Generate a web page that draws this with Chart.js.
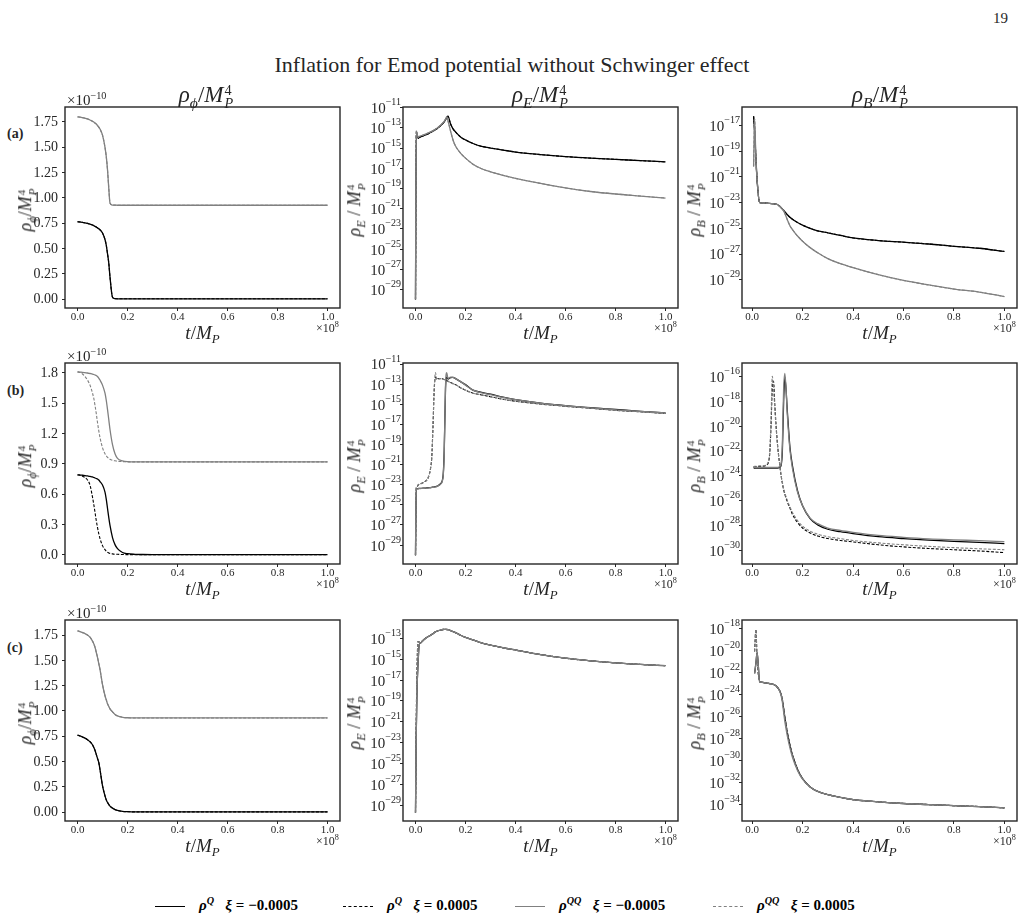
<!DOCTYPE html>
<html>
<head>
<meta charset="utf-8">
<script src="https://cdn.jsdelivr.net/npm/chart.js@4.4.1/dist/chart.umd.min.js"></script>
<style>
body { margin: 0; width: 1025px; height: 923px; background: #fff; position: relative; overflow: hidden;
       font-family: "Liberation Serif", "DejaVu Serif", serif; color: #262626; }
canvas { position: absolute; }
.lbl { position: absolute; white-space: nowrap; line-height: 1; }
.ss { display: inline-block; vertical-align: -0.45em; font-size: 0.62em; line-height: 0.95; margin-left: 1px; }
sub, sup { font-size: 0.68em; line-height: 0; }
.rot { transform: translate(-50%, -50%) rotate(-90deg); }
.mid { transform: translate(-50%, -50%); }
.leg { position: absolute; top: 897px; font-size: 15px; font-weight: bold; color: #000; white-space: nowrap; }
.sw { display: inline-block; width: 30px; vertical-align: middle; margin-right: 14px; }
</style>
</head>
<body>
<div class="lbl" style="left:993px;top:11px;font-size:15px;">19</div>
<div class="lbl mid" style="left:512px;top:65px;font-size:22px;">Inflation for Emod potential without Schwinger effect</div>
<div class="lbl" style="left:7px;top:127px;font-size:14px;font-weight:bold;">(a)</div>
<div class="lbl" style="left:7px;top:384px;font-size:14px;font-weight:bold;">(b)</div>
<div class="lbl" style="left:7px;top:641px;font-size:14px;font-weight:bold;">(c)</div>

<div class="leg" style="left:155px;"><span class="sw" style="border-top:1.6px solid #000;"></span><i>ρ</i><sup><i>Q</i></sup>&nbsp;&nbsp;&nbsp;<i>ξ</i> = −0.0005</div>
<div class="leg" style="left:343px;"><span class="sw" style="border-top:1.4px dashed #000;"></span><i>ρ</i><sup><i>Q</i></sup>&nbsp;&nbsp;&nbsp;<i>ξ</i> = 0.0005</div>
<div class="leg" style="left:515px;"><span class="sw" style="border-top:1.6px solid #808080;"></span><i>ρ</i><sup><i>QQ</i></sup>&nbsp;&nbsp;&nbsp;<i>ξ</i> = −0.0005</div>
<div class="leg" style="left:713px;"><span class="sw" style="border-top:1.4px dashed #808080;"></span><i>ρ</i><sup><i>QQ</i></sup>&nbsp;&nbsp;&nbsp;<i>ξ</i> = 0.0005</div>

<script>
// time grid, t / M_P in units of 1e8
const tGrid = [0, 0.003, 0.006, 0.01, 0.015, 0.02, 0.03, 0.04, 0.05, 0.06,
  0.065, 0.07, 0.075, 0.08, 0.085, 0.09, 0.1, 0.11, 0.115, 0.12, 0.125, 0.13,
  0.14, 0.15, 0.16, 0.18, 0.2, 0.23, 0.26, 0.3, 0.35, 0.4, 0.5, 0.6, 0.7, 0.8, 0.9, 1.0];

// --- row (a) ---
// rho_phi / M_P^4 in units of 1e-10
const phiA_Qm = [0.765, 0.765, 0.764, 0.763, 0.761, 0.759, 0.755, 0.749, 0.742, 0.733,
  0.727, 0.72, 0.713, 0.705, 0.696, 0.686, 0.655, 0.59, 0.535, 0.45, 0.36, 0.22,
  0.02, 0.006, 0.005, 0.005, 0.005, 0.005, 0.005, 0.005, 0.005, 0.005, 0.005, 0.005, 0.005, 0.005, 0.005, 0.005];
const phiA_Qp = phiA_Qm; // dashed curve sits on the solid one
const phiA_QQm = [1.80, 1.80, 1.799, 1.798, 1.796, 1.793, 1.787, 1.78, 1.77, 1.757,
  1.75, 1.74, 1.73, 1.715, 1.70, 1.68, 1.62, 1.50, 1.41, 1.28, 1.10, 0.95,
  0.93, 0.929, 0.928, 0.928, 0.928, 0.928, 0.928, 0.928, 0.928, 0.928, 0.928, 0.928, 0.928, 0.928, 0.928, 0.928];
const phiA_QQp = phiA_QQm;
// log10(rho_E / M_P^4)
const eA_Qm = [-30.0, -13.4, -13.6, -14.05, -13.95, -13.9, -13.8, -13.7, -13.6, -13.45,
  -13.4, -13.32, -13.25, -13.17, -13.1, -13.0, -12.8, -12.55, -12.4, -12.2, -12.0, -11.85,
  -12.6, -13.1, -13.4, -13.9, -14.2, -14.55, -14.8, -15.0, -15.2, -15.4, -15.65, -15.85, -16.0, -16.12, -16.25, -16.37];
const eA_Qp = eA_Qm;
const eA_QQm = [-30.0, -13.3, -13.5, -13.95, -13.85, -13.8, -13.72, -13.62, -13.52, -13.4,
  -13.35, -13.28, -13.2, -13.13, -13.05, -12.95, -12.75, -12.5, -12.35, -12.15, -11.9, -12.3,
  -13.3, -14.2, -14.8, -15.5, -16.0, -16.6, -17.0, -17.35, -17.7, -18.0, -18.5, -18.95, -19.3, -19.55, -19.75, -19.95];
const eA_QQp = eA_QQm;
// log10(rho_B / M_P^4)
const bA_Qm = [null, null, -16.3, -17.5, -19.5, -21.3, -23.0, -23.02, -23.04, -23.05,
  -23.06, -23.07, -23.08, -23.09, -23.1, -23.11, -23.15, -23.3, -23.4, -23.5, -23.6, -23.72,
  -23.95, -24.15, -24.3, -24.55, -24.75, -25.0, -25.2, -25.35, -25.55, -25.75, -25.95, -26.08, -26.22, -26.4, -26.55, -26.8];
const bA_Qp = bA_Qm;
const bA_QQm = [null, null, -20.2, -16.5, -19.5, -21.3, -23.0, -23.02, -23.04, -23.05,
  -23.06, -23.07, -23.08, -23.09, -23.1, -23.11, -23.15, -23.3, -23.4, -23.5, -23.65, -23.85,
  -24.35, -24.8, -25.1, -25.6, -26.0, -26.5, -26.9, -27.35, -27.75, -28.05, -28.6, -29.05, -29.4, -29.72, -29.95, -30.3];
const bA_QQp = bA_QQm;

// --- row (b) ---
const phiB_Qm = [0.79, 0.79, 0.79, 0.789, 0.788, 0.787, 0.784, 0.78, 0.775, 0.77,
  0.765, 0.76, 0.755, 0.75, 0.74, 0.725, 0.69, 0.62, 0.55, 0.46, 0.37, 0.29,
  0.17, 0.10, 0.06, 0.022, 0.01, 0.004, 0.002, 0.001, 0.001, 0.001, 0.001, 0.001, 0.001, 0.001, 0.001, 0.001];
const phiB_Qp = [0.79, 0.79, 0.789, 0.787, 0.783, 0.778, 0.765, 0.74, 0.69, 0.57,
  0.50, 0.42, 0.34, 0.27, 0.21, 0.16, 0.09, 0.05, 0.035, 0.025, 0.018, 0.013,
  0.008, 0.005, 0.004, 0.002, 0.001, 0.001, 0.001, 0.001, 0.001, 0.001, 0.001, 0.001, 0.001, 0.001, 0.001, 0.001];
const phiB_QQm = [1.81, 1.81, 1.81, 1.809, 1.808, 1.806, 1.803, 1.80, 1.795, 1.79,
  1.785, 1.78, 1.775, 1.765, 1.75, 1.73, 1.68, 1.60, 1.53, 1.44, 1.34, 1.24,
  1.09, 1.0, 0.955, 0.93, 0.922, 0.92, 0.92, 0.92, 0.92, 0.92, 0.92, 0.92, 0.92, 0.92, 0.92, 0.92];
const phiB_QQp = [1.81, 1.81, 1.808, 1.805, 1.80, 1.79, 1.765, 1.73, 1.68, 1.60,
  1.55, 1.48, 1.40, 1.31, 1.23, 1.16, 1.06, 1.0, 0.98, 0.965, 0.955, 0.945,
  0.935, 0.93, 0.926, 0.922, 0.92, 0.92, 0.92, 0.92, 0.92, 0.92, 0.92, 0.92, 0.92, 0.92, 0.92, 0.92];
const eB_Qm = [-30.0, -23.4, -23.4, -23.38, -23.37, -23.36, -23.35, -23.33, -23.3, -23.28,
  -23.26, -23.24, -23.22, -23.2, -23.15, -23.1, -22.9, -22.2, -19.5, -13.5, -12.3, -12.5,
  -12.35, -12.33, -12.45, -12.75, -13.05, -13.6, -13.8, -14.0, -14.3, -14.53, -14.88, -15.13, -15.35, -15.52, -15.7, -15.85];
const eB_Qp = [-30.0, -23.3, -23.2, -23.05, -22.95, -22.9, -22.8, -22.65, -22.35, -21.4,
  -20.3, -17.2, -13.5, -12.3, -12.55, -12.45, -12.45, -12.5, -12.55, -12.6, -12.65, -12.72,
  -12.85, -12.95, -13.05, -13.35, -13.6, -13.9, -14.05, -14.25, -14.5, -14.7, -14.98, -15.2, -15.4, -15.6, -15.75, -15.92];
const eB_QQm = [-30.0, -23.45, -23.42, -23.4, -23.39, -23.38, -23.36, -23.34, -23.32, -23.3,
  -23.28, -23.26, -23.24, -23.22, -23.18, -23.12, -22.95, -22.3, -19.8, -13.2, -11.85, -12.45,
  -12.3, -12.32, -12.45, -12.75, -13.1, -13.6, -13.85, -14.05, -14.32, -14.55, -14.9, -15.15, -15.37, -15.55, -15.72, -15.87];
const eB_QQp = [-30.0, -23.3, -23.2, -23.05, -22.95, -22.9, -22.8, -22.65, -22.35, -21.4,
  -20.3, -17.0, -13.3, -11.85, -12.5, -12.45, -12.45, -12.5, -12.55, -12.6, -12.65, -12.72,
  -12.85, -12.95, -13.05, -13.35, -13.6, -13.9, -14.05, -14.25, -14.5, -14.7, -14.98, -15.2, -15.4, -15.6, -15.75, -15.92];
const bB_Qm = [null, null, -23.35, -23.37, -23.37, -23.37, -23.37, -23.37, -23.37, -23.37,
  -23.37, -23.37, -23.37, -23.37, -23.37, -23.37, -23.37, -23.3, -23.15, -22.0, -18.0, -16.05,
  -18.9, -21.7, -23.2, -25.2, -26.4, -27.45, -27.95, -28.3, -28.5, -28.65, -28.9, -29.05, -29.17, -29.27, -29.35, -29.45];
const bB_Qp = [null, null, -23.28, -23.27, -23.26, -23.25, -23.24, -23.23, -23.2, -23.1,
  -22.9, -22.2, -20.0, -17.0, -16.4, -18.3, -21.3, -23.2, -24.0, -24.6, -25.1, -25.5,
  -26.1, -26.6, -27.1, -27.75, -28.2, -28.6, -28.85, -29.05, -29.2, -29.32, -29.55, -29.72, -29.85, -29.95, -30.05, -30.18];
const bB_QQm = [null, null, -23.3, -23.32, -23.33, -23.33, -23.33, -23.33, -23.33, -23.33,
  -23.33, -23.33, -23.33, -23.33, -23.33, -23.33, -23.33, -23.25, -23.05, -21.5, -17.0, -15.75,
  -19.2, -21.9, -23.4, -25.3, -26.4, -27.4, -27.85, -28.2, -28.4, -28.55, -28.8, -28.95, -29.07, -29.15, -29.22, -29.3];
const bB_QQp = [null, null, -23.25, -23.24, -23.23, -23.22, -23.21, -23.2, -23.17, -23.05,
  -22.8, -22.0, -19.5, -16.0, -16.9, -18.6, -21.4, -23.2, -23.95, -24.5, -25.0, -25.4,
  -26.0, -26.5, -26.95, -27.6, -28.05, -28.45, -28.7, -28.9, -29.05, -29.2, -29.4, -29.55, -29.68, -29.78, -29.87, -29.95];

// --- row (c) ---
const phiC_Qm = [0.76, 0.758, 0.756, 0.752, 0.748, 0.742, 0.73, 0.715, 0.695, 0.665,
  0.64, 0.61, 0.57, 0.53, 0.49, 0.42, 0.26, 0.16, 0.12, 0.095, 0.075, 0.058,
  0.038, 0.024, 0.015, 0.006, 0.003, 0.001, 0.001, 0.001, 0.001, 0.001, 0.001, 0.001, 0.001, 0.001, 0.001, 0.001];
const phiC_Qp = phiC_Qm;
const phiC_QQm = [1.79, 1.79, 1.788, 1.785, 1.78, 1.775, 1.765, 1.75, 1.73, 1.69,
  1.665, 1.63, 1.58, 1.53, 1.47, 1.41, 1.26, 1.15, 1.11, 1.07, 1.045, 1.02,
  0.99, 0.965, 0.95, 0.937, 0.932, 0.93, 0.93, 0.93, 0.93, 0.93, 0.93, 0.93, 0.93, 0.93, 0.93, 0.93];
const phiC_QQp = phiC_QQm;
const eC_Qm = [-29.7, -22.0, -18.0, -15.5, -13.6, -13.45, -13.2, -13.0, -12.85, -12.7,
  -12.62, -12.55, -12.45, -12.38, -12.32, -12.27, -12.2, -12.15, -12.14, -12.14, -12.15, -12.17,
  -12.25, -12.35, -12.45, -12.7, -12.9, -13.15, -13.4, -13.65, -13.9, -14.12, -14.55, -14.9, -15.15, -15.35, -15.5, -15.62];
const eC_Qp = [-29.7, -21.0, -16.0, -13.3, -13.35, -13.35, -13.2, -13.0, -12.85, -12.7,
  -12.62, -12.55, -12.45, -12.38, -12.32, -12.27, -12.2, -12.15, -12.14, -12.14, -12.15, -12.17,
  -12.25, -12.35, -12.45, -12.7, -12.9, -13.15, -13.4, -13.65, -13.9, -14.12, -14.55, -14.9, -15.15, -15.35, -15.5, -15.62];
const eC_QQm = eC_Qm;
const eC_QQp = eC_Qp;
const bC_Qm = [null, null, null, -22.1, -21.2, -20.2, -22.85, -22.9, -22.95, -22.98,
  -23.0, -23.02, -23.04, -23.06, -23.1, -23.15, -23.35, -23.7, -24.0, -24.5, -25.3, -26.1,
  -27.5, -28.6, -29.5, -30.8, -31.65, -32.4, -32.8, -33.1, -33.35, -33.55, -33.75, -33.9, -34.0, -34.1, -34.18, -34.3];
const bC_Qp = [null, null, null, -20.1, -18.1, -20.8, -22.85, -22.9, -22.95, -22.98,
  -23.0, -23.02, -23.04, -23.06, -23.1, -23.15, -23.35, -23.7, -24.0, -24.5, -25.3, -26.1,
  -27.5, -28.6, -29.5, -30.8, -31.65, -32.4, -32.8, -33.1, -33.35, -33.55, -33.75, -33.9, -34.0, -34.1, -34.18, -34.3];
const bC_QQm = [null, null, null, -22.1, -21.2, -20.2, -22.85, -22.9, -22.95, -22.98,
  -23.0, -23.02, -23.04, -23.06, -23.1, -23.15, -23.35, -23.75, -24.1, -24.7, -25.6, -26.5,
  -27.8, -28.85, -29.7, -30.9, -31.7, -32.4, -32.8, -33.1, -33.35, -33.55, -33.75, -33.9, -34.0, -34.1, -34.18, -34.3];
const bC_QQp = bC_Qp;

// tick labels
const xTicks = [0, 0.2, 0.4, 0.6, 0.8, 1.0];
const phiTicks25 = [0, 0.25, 0.5, 0.75, 1.0, 1.25, 1.5, 1.75];
const phiTicks3 = [0, 0.3, 0.6, 0.9, 1.2, 1.5, 1.8];
const eTicksAB = [-29, -27, -25, -23, -21, -19, -17, -15, -13, -11];
const eTicksC = [-29, -27, -25, -23, -21, -19, -17, -15, -13];
const bTicksA = [-29, -27, -25, -23, -21, -19, -17];
const bTicksB = [-30, -28, -26, -24, -22, -20, -18, -16];
const bTicksC = [-34, -32, -30, -28, -26, -24, -22, -20, -18];

const rowTops = [107, 363, 620];
const colLefts = [65, 403, 742];
const BOX_W = 275, BOX_H = 201;
const PAD_L = 62, PAD_T = 10, PAD_R = 8, PAD_B = 24;
const INK = '#262626';
const FAMILY = '"Liberation Serif", "DejaVu Serif", serif';

const lineStyles = [
  { color: '#000000', dash: [], width: 1.3 },
  { color: '#000000', dash: [3, 1.6], width: 1.1 },
  { color: '#808080', dash: [], width: 1.3 },
  { color: '#808080', dash: [3, 1.6], width: 1.1 }
];

const panels = [
  { row: 0, col: 0, log: false, series: [phiA_Qm, phiA_Qp, phiA_QQm, phiA_QQp], yMin: -0.086, yMax: 1.898, ticks: phiTicks25, dec: 2 },
  { row: 0, col: 1, log: true, series: [eA_Qm, eA_Qp, eA_QQm, eA_QQp], yMin: -30.83, yMax: -10.94, ticks: eTicksAB },
  { row: 0, col: 2, log: true, series: [bA_Qm, bA_Qp, bA_QQm, bA_QQp], yMin: -31.19, yMax: -15.58, ticks: bTicksA },
  { row: 1, col: 0, log: false, series: [phiB_Qm, phiB_Qp, phiB_QQm, phiB_QQp], yMin: -0.092, yMax: 1.899, ticks: phiTicks3, dec: 1 },
  { row: 1, col: 1, log: true, series: [eB_Qm, eB_Qp, eB_QQm, eB_QQp], yMin: -30.88, yMax: -10.9, ticks: eTicksAB },
  { row: 1, col: 2, log: true, series: [bB_Qm, bB_Qp, bB_QQm, bB_QQp], yMin: -31.09, yMax: -14.92, ticks: bTicksB },
  { row: 2, col: 0, log: false, series: [phiC_Qm, phiC_Qp, phiC_QQm, phiC_QQp], yMin: -0.089, yMax: 1.899, ticks: phiTicks25, dec: 2 },
  { row: 2, col: 1, log: true, series: [eC_Qm, eC_Qp, eC_QQm, eC_QQp], yMin: -30.5, yMax: -11.24, ticks: eTicksC },
  { row: 2, col: 2, log: true, series: [bC_Qm, bC_Qp, bC_QQm, bC_QQp], yMin: -35.49, yMax: -17.25, ticks: bTicksC }
];

// draws the full box round the plot area
const framePlugin = {
  id: 'frame',
  afterDraw(chart) {
    const { ctx, chartArea: a } = chart;
    ctx.save();
    ctx.strokeStyle = INK;
    ctx.lineWidth = 1.4;
    ctx.strokeRect(a.left, a.top, a.right - a.left, a.bottom - a.top);
    ctx.restore();
  }
};

// y tick texts with a real raised exponent for the log axes
const yTickTextPlugin = {
  id: 'yTickText',
  afterDraw(chart, args, opts) {
    const s = chart.scales.y, ctx = chart.ctx, left = chart.chartArea.left;
    ctx.save();
    ctx.fillStyle = INK;
    ctx.textAlign = 'right';
    ctx.textBaseline = 'middle';
    s.ticks.forEach(function (t) {
      const y = s.getPixelForValue(t.value);
      if (opts.log) {
        const e = Math.round(Math.log10(t.value));
        const es = (e < 0 ? '−' : '') + Math.abs(e);
        ctx.font = '10px ' + FAMILY;
        const ew = ctx.measureText(es).width;
        ctx.fillText(es, left - 2, y - 5);
        ctx.font = '15px ' + FAMILY;
        ctx.fillText('10', left - 2 - ew, y + 1.5);
      } else {
        ctx.font = '14px ' + FAMILY;
        ctx.fillText(t.value.toFixed(opts.dec), left - 7, y + 0.5);
      }
    });
    ctx.restore();
  }
};

const yLabelHtml = [
  '<i>ρ</i><sub><i>ϕ</i></sub>/<i>M</i><span class="ss">4<br><i>P</i></span>',
  '<i>ρ</i><sub><i>E</i></sub> / <i>M</i><span class="ss">4<br><i>P</i></span>',
  '<i>ρ</i><sub><i>B</i></sub> / <i>M</i><span class="ss">4<br><i>P</i></span>'
];
const titleHtml = [
  '<i>ρ</i><sub><i>ϕ</i></sub>/<i>M</i><span class="ss">4<br><i>P</i></span>',
  '<i>ρ</i><sub><i>E</i></sub>/<i>M</i><span class="ss">4<br><i>P</i></span>',
  '<i>ρ</i><sub><i>B</i></sub>/<i>M</i><span class="ss">4<br><i>P</i></span>'
];
const yLabelOffset = [38, 47, 46];
const titleX = [206, 540, 880];

function addLabel(html, style, cls) {
  var d = document.createElement('div');
  d.className = 'lbl ' + (cls || '');
  d.innerHTML = html;
  d.setAttribute('style', style);
  document.body.appendChild(d);
}

panels.forEach(function (p) {
  var boxL = colLefts[p.col], boxT = rowTops[p.row];
  var canvas = document.createElement('canvas');
  canvas.width = PAD_L + BOX_W + PAD_R;
  canvas.height = PAD_T + BOX_H + PAD_B;
  canvas.style.left = (boxL - PAD_L) + 'px';
  canvas.style.top = (boxT - PAD_T) + 'px';
  document.body.appendChild(canvas);

  var datasets = p.series.map(function (vals, i) {
    var st = lineStyles[i];
    return {
      data: tGrid.map(function (t, k) {
        var v = vals[k];
        return { x: t, y: v === null ? null : (p.log ? Math.pow(10, v) : v) };
      }),
      borderColor: st.color,
      borderWidth: st.width,
      borderDash: st.dash,
      pointRadius: 0,
      fill: false,
      cubicInterpolationMode: 'monotone',
      order: 4 - i
    };
  });

  new Chart(canvas.getContext('2d'), {
    type: 'line',
    data: { datasets: datasets },
    options: {
      responsive: false,
      animation: false,
      events: [],
      layout: { padding: { left: 0, top: PAD_T, right: PAD_R, bottom: 0 } },
      plugins: {
        legend: { display: false },
        tooltip: { enabled: false },
        yTickText: { log: p.log, dec: p.dec }
      },
      scales: {
        x: {
          type: 'linear',
          min: p.col === 2 ? -0.04 : -0.05,
          max: 1.05,
          afterBuildTicks: function (axis) { axis.ticks = xTicks.map(function (v) { return { value: v }; }); },
          afterFit: function (axis) { axis.height = PAD_B; },
          grid: { display: true, drawOnChartArea: false, drawTicks: true, tickLength: 3, color: INK },
          border: { display: false },
          ticks: { autoSkip: false, maxRotation: 0, padding: 0, color: INK,
                   font: { family: FAMILY, size: 11 },
                   callback: function (v) { return v.toFixed(1); } }
        },
        y: {
          type: p.log ? 'logarithmic' : 'linear',
          min: p.log ? Math.pow(10, p.yMin) : p.yMin,
          max: p.log ? Math.pow(10, p.yMax) : p.yMax,
          afterBuildTicks: function (axis) {
            axis.ticks = p.ticks.map(function (v) { return { value: p.log ? Math.pow(10, v) : v }; });
          },
          afterFit: function (axis) { axis.width = PAD_L; },
          grid: { display: true, drawOnChartArea: false, drawTicks: true, tickLength: 3, color: INK },
          border: { display: false },
          ticks: { display: false, autoSkip: false }
        }
      }
    },
    plugins: [framePlugin, yTickTextPlugin]
  });

  // axis texts
  addLabel(yLabelHtml[p.col], 'left:' + (boxL - yLabelOffset[p.col]) + 'px;top:' + (boxT + 103) + 'px;font-size:18px;', 'rot');
  addLabel('<i>t</i>/<i>M</i><sub><i>P</i></sub>', 'left:' + (boxL + BOX_W / 2) + 'px;top:' + (boxT + 225) + 'px;font-size:19px;', 'mid');
  addLabel('×10<sup>8</sup>', 'left:' + (boxL + 251) + 'px;top:' + (boxT + 215) + 'px;font-size:12px;');
  if (p.col === 0) {
    addLabel('×10<sup>−10</sup>', 'left:' + (boxL + 2) + 'px;top:' + (boxT - 14) + 'px;font-size:15px;');
  }
  if (p.row === 0) {
    addLabel(titleHtml[p.col], 'left:' + titleX[p.col] + 'px;top:' + (boxT - 10) + 'px;font-size:23px;', 'mid');
  }
});
</script>
</body>
</html>
